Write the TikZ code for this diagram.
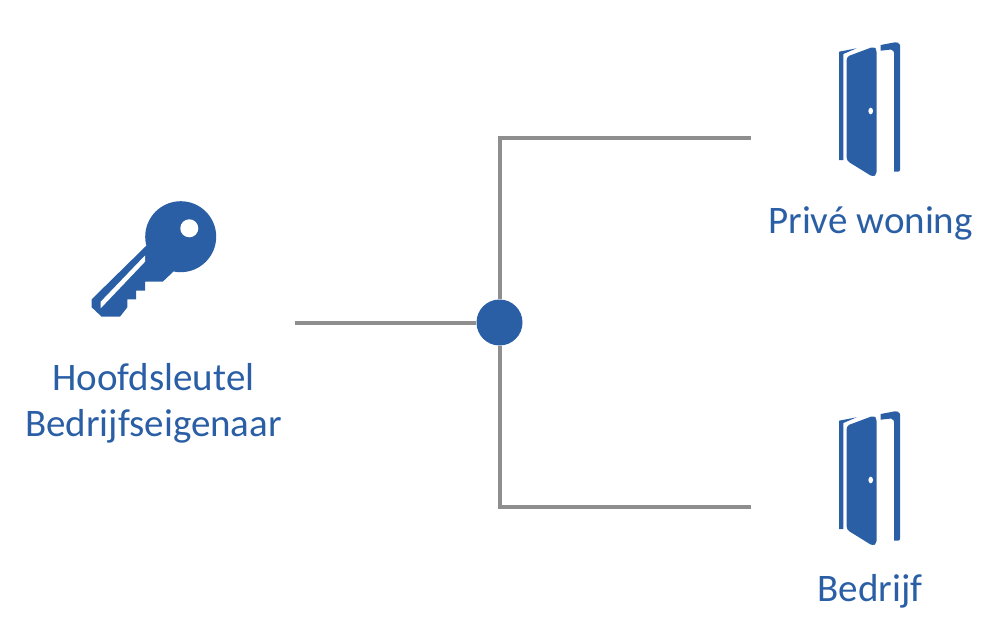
\documentclass[tikz,border=0pt]{standalone}
\usepackage{fontspec}
\setmainfont{Carlito}
\definecolor{keyblue}{HTML}{2A5FA5}
\definecolor{wiregray}{HTML}{8E8E8E}
\tikzset{
  wire/.style={draw=wiregray,line width=4pt},
  hubdot/.style={circle,fill=keyblue,minimum size=46pt,inner sep=0pt},
  caption/.style={text=keyblue,font=\fontsize{39}{46}\selectfont,align=center},
  door/.pic={
    \fill [keyblue,rounded corners=3pt] (846.7,56.7) -- (874,46.5) -- (876.7,50) -- (876.7,174) -- (873,177) -- (846.7,160.7) -- cycle ;
    \fill [white] (870.7,111) ellipse (2.3 and 3.3) ;
    \fill [keyblue] (839,51.7) -- (856.7,48.3) -- (843.3,54) -- (843.3,160) -- (839,160) -- cycle ;
    \fill [keyblue] (880.7,45) -- (895,42.3) [rounded corners=2pt] -- (900,43) -- (900,171.7) [sharp corners] -- (894,171.7) -- (894,53.3) [rounded corners=2pt] -- (893,49.3) [sharp corners] -- (880.7,50.7) -- cycle ;
  }
}
\begin{document}
\begin{tikzpicture}[x=1pt,y=-1pt]
  \useasboundingbox (0,0) rectangle (1000,642);
  % key
  \fill [keyblue] (146,246) -- (91.7,299.3) -- (91.7,307.3) -- (101.7,316.7) -- (120,316.7) -- (127.3,307.3) -- (127.3,299.3) -- (136,299.3) -- (136,290.7) -- (145,290.7) -- (145,281.7) -- (162.7,281.7) -- (173.3,271.7) -- (181,236.7) -- cycle ;
  \fill [keyblue] (180.7,236.7) circle (35.5) ;
  \fill [white] (189.3,228.3) circle (9) ;
  \fill [white] (100.7,301.7) -- (145,255.5) -- (145,261.7) -- (100.7,308.3) -- cycle ;
  % doors
  \pic at (0,0) {door};
  \pic at (0,369) {door};
  % wires
  \node [hubdot] (hub) at (499.5,322.5) {};
  \coordinate (keyend) at (295,322.5);
  \coordinate (priveend) at (751,137.5);
  \coordinate (bedrijfend) at (751,507);
  \draw [wire] (keyend) -- (hub);
  \draw [wire] (hub) |- (priveend);
  \draw [wire] (hub) |- (bedrijfend);
  % labels
  \node [caption] (hoofd) at (153.5,403) {Hoofdsleutel\\Bedrijfseigenaar};
  \node [caption] (prive) at (870.5,223) {Privé woning};
  \node [caption] (bedrijf) at (870,591) {Bedrijf};
\end{tikzpicture}
\end{document}
